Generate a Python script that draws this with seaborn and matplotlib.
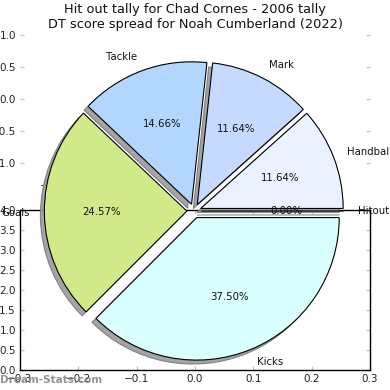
import matplotlib
matplotlib.use("Agg")
import matplotlib.pyplot as plt
import seaborn as sns

# ---- data ----
labels = ["Handball", "Mark", "Tackle", "Goals", "Kicks", "Hitout"]
points = [54, 54, 68, 114, 174, 0]
colors = ["#eaf2ff", "#c6d9ff", "#b3d6ff", "#d0ea8a", "#d9ffff", "#ffd9d9"]
explode = [0.05, 0.05, 0.05, 0.05, 0.05, 0.05]

top_yticks = [-1.0, -0.5, 0.0, 0.5, 1.0]
top_xticks = [-1, 0]
bottom_xticks = [-0.3, -0.2, -0.1, 0.0, 0.1, 0.2, 0.3]
bottom_yticks = [0.0, 0.5, 1.0, 1.5, 2.0, 2.5, 3.0, 3.5, 4.0]

title_lines = ["Hit out tally for Chad Cornes - 2006 tally",
               "DT score spread for Noah Cumberland (2022)"]

sns.set_theme(style="white")
plt.rcParams["font.family"] = ["DejaVu Sans"]
plt.rcParams["axes.unicode_minus"] = True

W = H = 390
fig = plt.figure(figsize=(3.9, 3.9), dpi=100)
fig.patch.set_facecolor("white")

def px_rect(x0, y0, x1, y1):
    return [x0 / W, (H - y1) / H, (x1 - x0) / W, (y1 - y0) / H]

tick_col = "#c8c8c8"
fs_tick = 7.5

# ---- leftover top axes (ticks only) ----
axA = fig.add_axes(px_rect(20, 22.2, 370, 175.8))
axA.set_facecolor("none")
axA.set_ylim(-1.2, 1.2)
axA.set_xlim(-1.185, 1.13)
axA.set_yticks(top_yticks)
axA.set_yticklabels([f"{v:.1f}".replace("-", "\u2212") for v in top_yticks])
axA.set_xticks(top_xticks)
axA.set_xticklabels([str(v).replace("-", "\u2212") for v in top_xticks])
sns.despine(ax=axA, left=True, bottom=True, right=True, top=True)
axA.tick_params(axis="y", direction="in", length=3, width=1, color=tick_col,
                labelsize=fs_tick, labelcolor="#222222", pad=3,
                left=True, right=True)
axA.tick_params(axis="x", length=0, labelsize=fs_tick, labelcolor="#222222", pad=4)

# ---- bottom axes ----
axB = fig.add_axes(px_rect(20, 210, 370, 370))
axB.set_facecolor("none")
axB.set_xlim(-0.3, 0.3)
axB.set_ylim(0, 4)
axB.set_xticks(bottom_xticks)
axB.set_xticklabels([f"{v:.1f}".replace("-", "\u2212") for v in bottom_xticks])
axB.set_yticks(bottom_yticks)
axB.set_yticklabels([f"{v:.1f}" for v in bottom_yticks])
for s in axB.spines.values():
    s.set_visible(True)
    s.set_color("black")
    s.set_linewidth(1.0)
axB.tick_params(axis="both", direction="in", length=3, width=1, color=tick_col,
                labelsize=fs_tick, labelcolor="#222222", pad=3,
                left=True, right=True, top=True, bottom=True)

# ---- pie axes ----
axP = fig.add_axes([0, 0, 1, 1])
axP.set_facecolor("none")
wedges, texts, autotexts = axP.pie(
    points, labels=labels, colors=colors, explode=explode,
    autopct="%.2f%%",
    shadow=dict(ox=-0.02, oy=-0.02, facecolor="#9a9a9a",
                edgecolor="#7a7a7a", alpha=0.9),
    startangle=0,
    wedgeprops=dict(edgecolor="black", linewidth=0.8),
    textprops=dict(fontsize=7.3, color="#111111"),
)
r_px = 142.5
cx, cy = 194, 211
axP.set_xlim(-cx / r_px, (W - cx) / r_px)
axP.set_ylim(-(H - cy) / r_px, cy / r_px)
axP.set_aspect("auto")
axP.axis("off")

# ---- titles & watermark ----
fig.text(0.5, 1 - 3 / H, "\n".join(title_lines), ha="center", va="top",
         fontsize=9.3, color="#111111", linespacing=1.2)
fig.text(0.0, 1 - 380 / H, "Dream-Stats.com", ha="left", va="center",
         fontsize=7.5, fontweight="bold", color="#808080", alpha=0.85)

fig.savefig("out.png", dpi=100)
